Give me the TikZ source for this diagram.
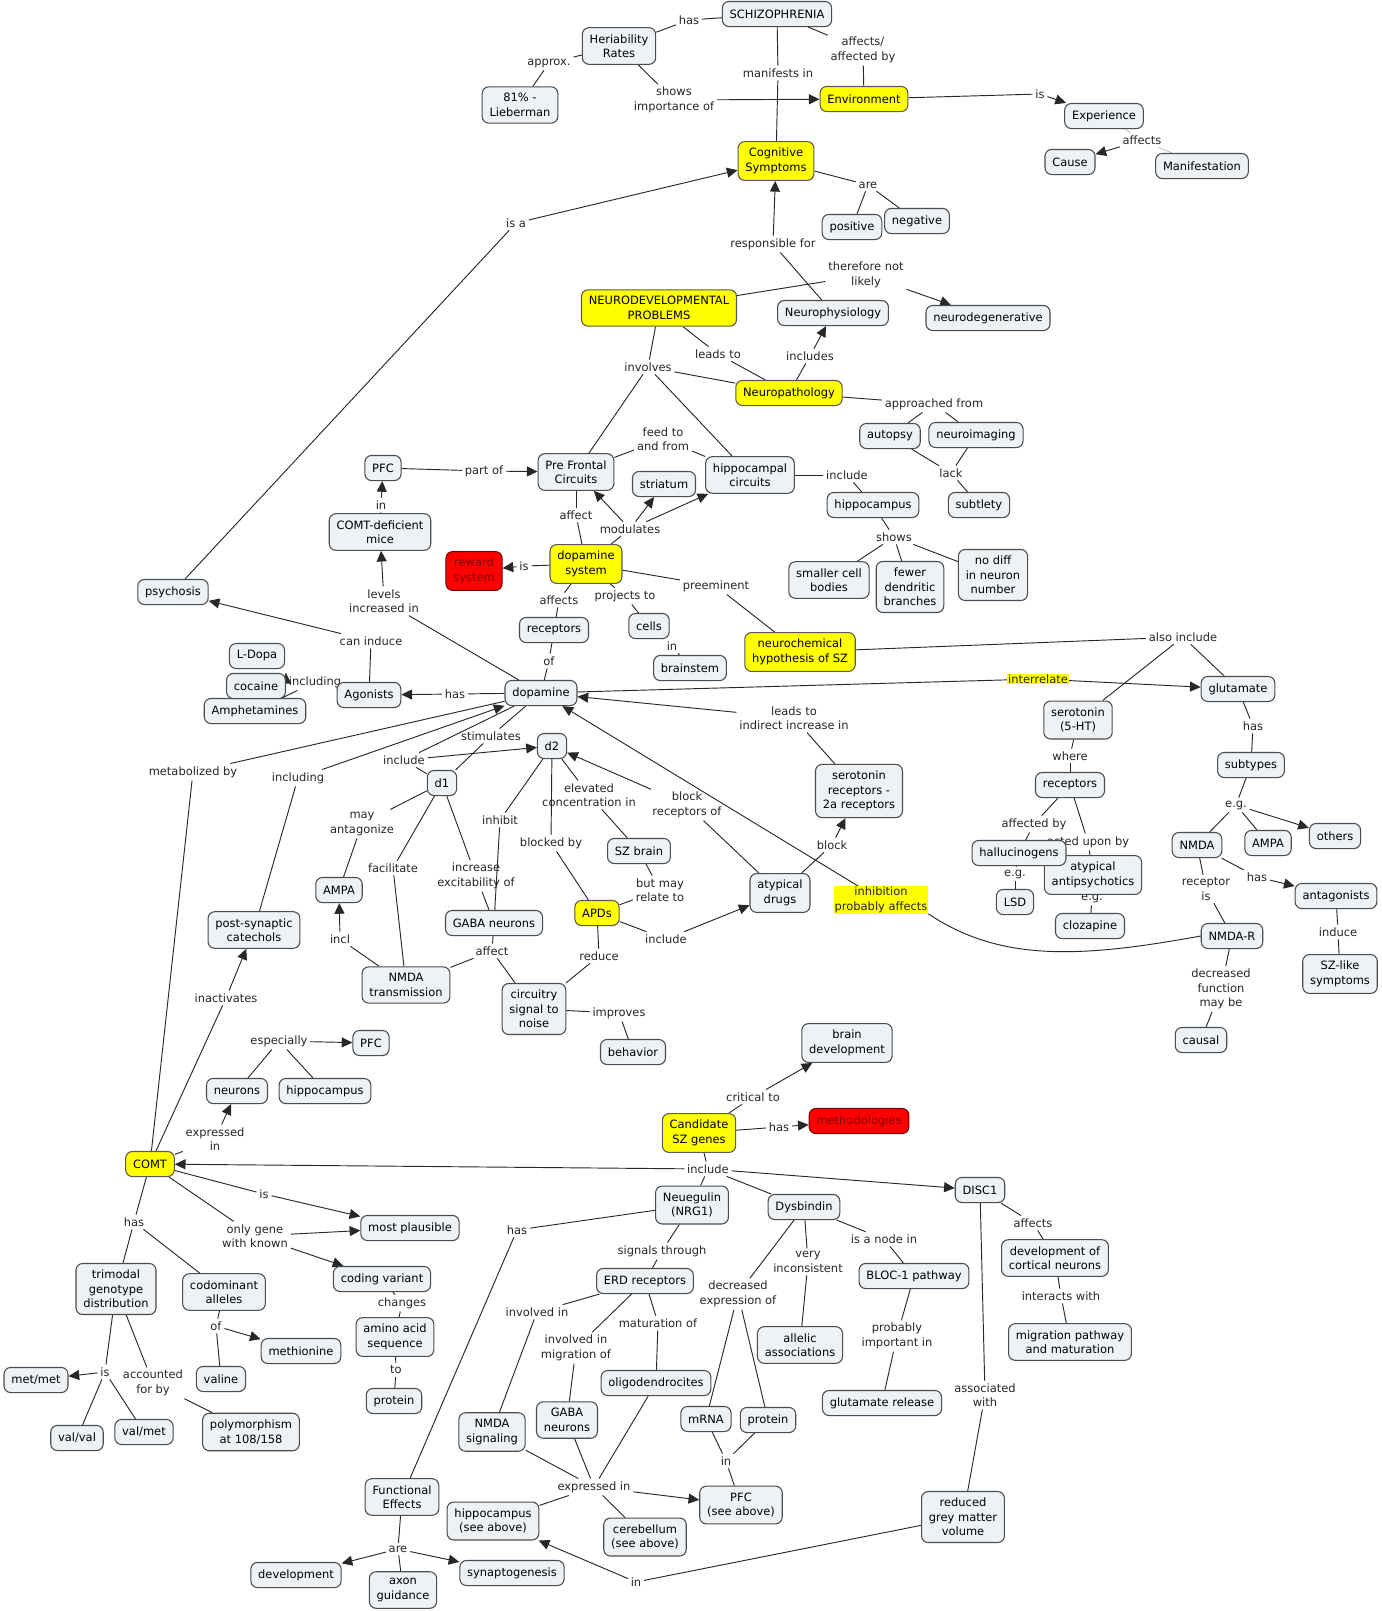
\documentclass[tikz,border=0pt]{standalone}
\usepackage{fontspec}
\setmainfont{DejaVu Sans}
\usepackage{tikz}
\usetikzlibrary{arrows.meta, positioning, backgrounds}
\definecolor{cfill}{RGB}{236,242,245}
\definecolor{keyyellow}{RGB}{255,255,0}
\definecolor{hotred}{RGB}{255,0,0}
\definecolor{edgegray}{RGB}{40,40,40}
\newcommand{\mapfont}{\fontsize{8.6}{10.8}\selectfont}
\tikzset{
  concept/.style={rectangle,rounded corners=5pt,draw=black!70,fill=cfill,line width=0.8pt,
    align=center,inner xsep=5.5pt,inner ysep=5pt,minimum height=18.8pt,font=\mapfont},
  keynode/.style={concept,fill=keyyellow,draw=black!65},
  hotnode/.style={concept,fill=hotred,draw=red!45!black,text=red!50!black},
  phrase/.style={inner sep=2pt,align=center,font=\mapfont,text=black!85},
  hiphrase/.style={phrase,fill=keyyellow,inner sep=0.6pt},
  ln/.style={draw=edgegray,line width=0.7pt},
  arr/.style={ln,-{Triangle[length=8pt,width=7.5pt]}},
  faint/.style={draw=black!35,line width=0.4pt}
}

\begin{document}
\begin{tikzpicture}[x=0.75pt,y=-0.75pt]
  \useasboundingbox (0,0) rectangle (1382,1611);

  % linking phrases
  \node[phrase] (pHas1) at (689,20) {has};
  \node[phrase] (pApprox) at (549,63) {approx.};
  \node[phrase] (pShows) at (674,100) {shows\\importance of};
  \node[phrase] (pManif) at (778,73) {manifests in};
  \node[phrase] (pAffBy) at (863,50) {affects/\\affected by};
  \node[phrase] (pIs1) at (1040,94) {is};
  \node[phrase] (pAffects1) at (1142,140) {affects};
  \node[phrase] (pIsa) at (516,223) {is a};
  \node[phrase] (pAre1) at (868,185) {are};
  \node[phrase] (pResp) at (773,244) {responsible for};
  \node[phrase] (pThere) at (866,275) {therefore not\\likely};
  \node[phrase] (pLeads) at (718,354) {leads to};
  \node[phrase] (pIncludes) at (810,356) {includes};
  \node[phrase] (pInvolves) at (648,367) {involves};
  \node[phrase] (pApproach) at (934,404) {approached from};
  \node[phrase] (pLack) at (951,473) {lack};
  \node[phrase] (pFeed) at (663,439) {feed to\\and from};
  \node[phrase] (pPartof) at (484,471) {part of};
  \node[phrase] (pInA) at (381,505) {in};
  \node[phrase] (pInclude1) at (847,475) {include};
  \node[phrase] (pAffect1) at (576,515) {affect};
  \node[phrase] (pModul) at (630,529) {modulates};
  \node[phrase] (pShows2) at (894,537) {shows};
  \node[phrase] (pIs2) at (524,566) {is};
  \node[phrase] (pAffects2) at (559,600) {affects};
  \node[phrase] (pProj) at (625,596) {projects to};
  \node[phrase] (pPreem) at (716,586) {preeminent};
  \node[phrase] (pLevels) at (384,601) {levels\\increased in};
  \node[phrase] (pCanInd) at (371,641) {can induce};
  \node[phrase] (pInB) at (672,646) {in};
  \node[phrase] (pOf1) at (549,661) {of};
  \node[phrase] (pIncl1) at (315,682) {including};
  \node[phrase] (pHas2) at (455,694) {has};
  \node[phrase] (pAlso) at (1183,637) {also include};
  \node[hiphrase] (pInter) at (1038,679) {interrelate};
  \node[phrase] (pWhere) at (1070,756) {where};
  \node[phrase] (pHas3) at (1253,726) {has};
  \node[phrase] (pStim) at (491,736) {stimulates};
  \node[phrase] (pLeadsInd) at (794,718) {leads to\\indirect increase in};
  \node[phrase] (pInclude2) at (404,760) {include};
  \node[phrase] (pMetab) at (193,772) {metabolized by};
  \node[phrase] (pIncl2) at (298,778) {including};
  \node[phrase] (pElev) at (589,795) {elevated\\concentration in};
  \node[phrase] (pBlockRec) at (687,805) {block\\receptors of};
  \node[phrase] (pEg1) at (1236,805) {e.g.};
  \node[phrase] (pInhibit) at (500,820) {inhibit};
  \node[phrase] (pMayAnt) at (362,824) {may\\antagonize};
  \node[phrase] (pAffBy2) at (1034,824) {affected by};
  \node[phrase] (pActed) at (1088,842) {acted upon by};
  \node[phrase] (pBlockedBy) at (551,843) {blocked by};
  \node[phrase] (pBlock) at (832,845) {block};
  \node[phrase] (pFacil) at (393,868) {facilitate};
  \node[phrase] (pIncExc) at (476,876) {increase\\excitability of};
  \node[phrase] (pRecIs) at (1206,889) {receptor\\is};
  \node[phrase] (pHas4) at (1257,877) {has};
  \node[phrase] (pBut) at (660,890) {but may\\relate to};
  \node[phrase] (pEg2) at (1015,874) {e.g.};
  \node[phrase] (pEg3) at (1092,898) {e.g.};
  \node[hiphrase] (pInhib) at (881,900) {inhibition\\probably affects};
  \node[phrase] (pInduce) at (1338,932) {induce};
  \node[phrase] (pIncl3) at (340,939) {incl};
  \node[phrase] (pInclude3) at (666,939) {include};
  \node[phrase] (pAffect2) at (492,951) {affect};
  \node[phrase] (pReduce) at (599,956) {reduce};
  \node[phrase] (pDecr) at (1221,989) {decreased\\function\\may be};
  \node[phrase] (pInact) at (226,998) {inactivates};
  \node[phrase] (pImprov) at (619,1013) {improves};
  \node[phrase] (pEspec) at (279,1041) {especially};
  \node[phrase] (pCritical) at (753,1097) {critical to};
  \node[phrase] (pHas5) at (779,1127) {has};
  \node[phrase] (pExprA) at (215,1139) {expressed\\in};
  \node[phrase] (pInclude4) at (708,1169) {include};
  \node[phrase] (pIs3) at (264,1194) {is};
  \node[phrase] (pHas6) at (134,1222) {has};
  \node[phrase] (pAffects3) at (1033,1223) {affects};
  \node[phrase] (pHas7) at (517,1230) {has};
  \node[phrase] (pOnly) at (255,1236) {only gene\\with known};
  \node[phrase] (pNode) at (884,1239) {is a node in};
  \node[phrase] (pSignals) at (662,1251) {signals through};
  \node[phrase] (pVery) at (808,1262) {very\\inconsistent};
  \node[phrase] (pDecrExp) at (738,1294) {decreased\\expression of};
  \node[phrase] (pInteracts) at (1061,1296) {interacts with};
  \node[phrase] (pChanges) at (402,1303) {changes};
  \node[phrase] (pInvolved) at (537,1312) {involved in};
  \node[phrase] (pMatur) at (658,1323) {maturation of};
  \node[phrase] (pOf2) at (216,1326) {of};
  \node[phrase] (pProb) at (897,1336) {probably\\important in};
  \node[phrase] (pInvMig) at (576,1348) {involved in\\migration of};
  \node[phrase] (pTo) at (396,1370) {to};
  \node[phrase] (pIs4) at (105,1372) {is};
  \node[phrase] (pAccount) at (153,1383) {accounted\\for by};
  \node[phrase] (pAssoc) at (985,1395) {associated\\with};
  \node[phrase] (pInC) at (726,1461) {in};
  \node[phrase] (pExprB) at (594,1487) {expressed in};
  \node[phrase] (pAre2) at (398,1549) {are};
  \node[phrase] (pInD) at (636,1582) {in};

  % concepts
  \node[concept] (schizo) at (777,14) {SCHIZOPHRENIA};
  \node[concept] (herit) at (619,46) {Heriability\\Rates};
  \node[concept] (liebe) at (520,105) {81\% -\\Lieberman};
  \node[keynode] (envir) at (864,99) {Environment};
  \node[keynode] (cogsym) at (776,161) {Cognitive\\Symptoms};
  \node[concept] (experi) at (1104,116) {Experience};
  \node[concept] (cause) at (1070,162) {Cause};
  \node[concept] (manif) at (1202,166) {Manifestation};
  \node[concept] (positive) at (852,227) {positive};
  \node[concept] (negative) at (917,221) {negative};
  \node[keynode] (neurodev) at (659,308) {NEURODEVELOPMENTAL\\PROBLEMS};
  \node[concept] (neurophys) at (833,313) {Neurophysiology};
  \node[concept] (neurodeg) at (988,318) {neurodegenerative};
  \node[keynode] (neuropath) at (789,393) {Neuropathology};
  \node[concept] (autopsy) at (890,436) {autopsy};
  \node[concept] (neuroimg) at (976,435) {neuroimaging};
  \node[concept] (subtlety) at (979,505) {subtlety};
  \node[concept] (pfcA) at (383,468) {PFC};
  \node[concept] (prefront) at (576,472) {Pre Frontal\\Circuits};
  \node[concept] (striatum) at (664,484) {striatum};
  \node[concept] (hippocirc) at (750,475) {hippocampal\\circuits};
  \node[concept] (hippoA) at (873,505) {hippocampus};
  \node[concept] (comtmice) at (380,532) {COMT-deficient\\mice};
  \node[hotnode] (reward) at (474,571) {reward\\system};
  \node[keynode] (dasys) at (586,564) {dopamine\\system};
  \node[concept] (smallcell) at (829,580) {smaller cell\\bodies};
  \node[concept] (fewer) at (910,587) {fewer\\dendritic\\branches};
  \node[concept] (nodiff) at (993,575) {no diff\\in neuron\\number};
  \node[concept] (psychosis) at (173,592) {psychosis};
  \node[concept] (receptA) at (554,630) {receptors};
  \node[concept] (cells) at (649,626) {cells};
  \node[concept] (brainstem) at (690,668) {brainstem};
  \node[keynode] (neurochem) at (800,652) {neurochemical\\hypothesis of SZ};
  \node[concept] (ldopa) at (257,656) {L-Dopa};
  \node[concept] (amphet) at (255,711) {Amphetamines};
  \node[concept] (cocaine) at (256,686) {cocaine};
  \node[concept] (agonists) at (369,695) {Agonists};
  \node[concept] (dopamine) at (541,693) {dopamine};
  \node[concept] (glutamate) at (1238,689) {glutamate};
  \node[concept] (sero) at (1078,720) {serotonin\\(5-HT)};
  \node[concept] (d2) at (552,746) {d2};
  \node[concept] (d1) at (442,783) {d1};
  \node[concept] (sero2a) at (859,791) {serotonin\\receptors -\\2a receptors};
  \node[concept] (receptB) at (1070,785) {receptors};
  \node[concept] (subtypes) at (1251,765) {subtypes};
  \node[concept] (szbrain) at (639,851) {SZ brain};
  \node[concept] (ampaA) at (339,890) {AMPA};
  \node[concept] (atypanti) at (1093,875) {atypical\\antipsychotics};
  \node[concept] (hallu) at (1019,853) {hallucinogens};
  \node[concept] (nmdaA) at (1197,845) {NMDA};
  \node[concept] (ampaB) at (1268,843) {AMPA};
  \node[concept] (others) at (1335,836) {others};
  \node[concept] (atypdrug) at (780,893) {atypical\\drugs};
  \node[keynode] (apds) at (597,913) {APDs};
  \node[concept] (gabaA) at (494,923) {GABA neurons};
  \node[concept] (postsyn) at (254,930) {post-synaptic\\catechols};
  \node[concept] (lsd) at (1015,902) {LSD};
  \node[concept] (clozap) at (1090,926) {clozapine};
  \node[concept] (antag) at (1336,896) {antagonists};
  \node[concept] (nmdar) at (1232,936) {NMDA-R};
  \node[concept] (nmdatr) at (406,985) {NMDA\\transmission};
  \node[concept] (circuit) at (534,1009) {circuitry\\signal to\\noise};
  \node[concept] (szlike) at (1340,974) {SZ-like\\symptoms};
  \node[concept] (causal) at (1201,1040) {causal};
  \node[concept] (pfcB) at (371,1043) {PFC};
  \node[concept] (behavior) at (633,1052) {behavior};
  \node[concept] (braindev) at (847,1043) {brain\\development};
  \node[concept] (neurons) at (237,1091) {neurons};
  \node[concept] (hippoB) at (325,1091) {hippocampus};
  \node[keynode] (candidate) at (699,1133) {Candidate\\SZ genes};
  \node[hotnode] (method) at (859,1121) {methodologies};
  \node[keynode] (comt) at (150,1164) {COMT};
  \node[concept] (disc1) at (980,1190) {DISC1};
  \node[concept] (nrg1) at (692,1205) {Neuegulin\\(NRG1)};
  \node[concept] (dysb) at (804,1207) {Dysbindin};
  \node[concept] (plausible) at (410,1228) {most plausible};
  \node[concept] (devcort) at (1055,1258) {development of\\cortical neurons};
  \node[concept] (bloc) at (914,1276) {BLOC-1 pathway};
  \node[concept] (coding) at (382,1279) {coding variant};
  \node[concept] (erd) at (645,1281) {ERD receptors};
  \node[concept] (trimodal) at (116,1289) {trimodal\\genotype\\distribution};
  \node[concept] (codom) at (224,1292) {codominant\\alleles};
  \node[concept] (amino) at (395,1337) {amino acid\\sequence};
  \node[concept] (migpath) at (1070,1342) {migration pathway\\and maturation};
  \node[concept] (allelic) at (800,1345) {allelic\\associations};
  \node[concept] (methio) at (301,1351) {methionine};
  \node[concept] (metmet) at (36,1380) {met/met};
  \node[concept] (valine) at (221,1379) {valine};
  \node[concept] (oligo) at (656,1383) {oligodendrocites};
  \node[concept] (proteinA) at (394,1401) {protein};
  \node[concept] (glurel) at (882,1403) {glutamate release};
  \node[concept] (gabaB) at (567,1420) {GABA\\neurons};
  \node[concept] (nmdasig) at (492,1432) {NMDA\\signaling};
  \node[concept] (mrna) at (706,1419) {mRNA};
  \node[concept] (proteinB) at (768,1420) {protein};
  \node[concept] (valval) at (77,1438) {val/val};
  \node[concept] (valmet) at (144,1432) {val/met};
  \node[concept] (polym) at (251,1432) {polymorphism\\at 108/158};
  \node[concept] (funceff) at (402,1497) {Functional\\Effects};
  \node[concept] (pfcC) at (741,1505) {PFC\\(see above)};
  \node[concept] (hippoC) at (493,1521) {hippocampus\\(see above)};
  \node[concept] (grey) at (963,1517) {reduced\\grey matter\\volume};
  \node[concept] (cereb) at (645,1537) {cerebellum\\(see above)};
  \node[concept] (synapto) at (512,1573) {synaptogenesis};
  \node[concept] (devel) at (296,1575) {development};
  \node[concept] (axon) at (403,1590) {axon\\guidance};

  \begin{pgfonlayer}{background}
    \fill[white] (0,0) rectangle (1382,1611);
    % schizophrenia and symptoms
    \draw[ln] (schizo)--(pHas1); \draw[ln] (pHas1)--(herit);
    \draw[ln] (herit)--(pApprox); \draw[ln] (pApprox)--(liebe);
    \draw[ln] (herit)--(pShows); \draw[arr] (pShows)--(envir);
    \draw[ln] (schizo)--(pManif); \draw[ln] (pManif)--(cogsym);
    \draw[ln] (schizo)--(pAffBy); \draw[ln] (pAffBy)--(envir);
    \draw[ln] (envir)--(pIs1); \draw[arr] (pIs1)--(experi);
    \draw[faint] (experi)--(pAffects1); \draw[arr] (pAffects1)--(cause);
    \draw[faint] (pAffects1)--(manif);
    \draw[ln] (cogsym)--(pAre1); \draw[ln] (pAre1)--(positive); \draw[ln] (pAre1)--(negative);
    \draw[ln] (psychosis)--(pIsa); \draw[arr] (pIsa)--(cogsym);
    \draw[ln] (neurophys)--(pResp); \draw[arr] (pResp)--(cogsym);
    \draw[ln] (neurodev)--(pThere); \draw[arr] (pThere)--(neurodeg);
    \draw[ln] (neurodev)--(pLeads); \draw[ln] (pLeads)--(neuropath);
    \draw[ln] (neuropath)--(pIncludes); \draw[arr] (pIncludes)--(neurophys);
    \draw[ln] (neurodev)--(pInvolves); \draw[ln] (pInvolves)--(neuropath);
    \draw[ln] (pInvolves)--(prefront); \draw[ln] (pInvolves)--(hippocirc);
    \draw[ln] (neuropath)--(pApproach); \draw[ln] (pApproach)--(autopsy); \draw[ln] (pApproach)--(neuroimg);
    \draw[ln] (autopsy)--(pLack); \draw[ln] (neuroimg)--(pLack); \draw[ln] (pLack)--(subtlety);
    % dopamine
    \draw[ln] (prefront)--(pFeed); \draw[ln] (pFeed)--(hippocirc);
    \draw[ln] (pfcA)--(pPartof); \draw[arr] (pPartof)--(prefront);
    \draw[ln] (comtmice)--(pInA); \draw[arr] (pInA)--(pfcA);
    \draw[ln] (hippocirc)--(pInclude1); \draw[ln] (pInclude1)--(hippoA);
    \draw[ln] (hippoA)--(pShows2); \draw[ln] (pShows2)--(smallcell);
    \draw[ln] (pShows2)--(fewer); \draw[ln] (pShows2)--(nodiff);
    \draw[ln] (dasys)--(pAffect1); \draw[ln] (pAffect1)--(prefront);
    \draw[ln] (dasys)--(pModul); \draw[arr] (pModul)--(prefront);
    \draw[arr] (pModul)--(striatum); \draw[arr] (pModul)--(hippocirc);
    \draw[ln] (dasys)--(pIs2); \draw[arr] (pIs2)--(reward);
    \draw[ln] (dasys)--(pAffects2); \draw[ln] (pAffects2)--(receptA);
    \draw[ln] (receptA)--(pOf1); \draw[ln] (pOf1)--(dopamine);
    \draw[ln] (dasys)--(pProj); \draw[ln] (pProj)--(cells);
    \draw[ln] (cells)--(pInB); \draw[ln] (pInB)--(brainstem);
    \draw[ln] (dasys)--(pPreem); \draw[ln] (pPreem)--(neurochem);
    \draw[ln] (neurochem)--(pAlso); \draw[ln] (pAlso)--(sero); \draw[ln] (pAlso)--(glutamate);
    \draw[ln] (dopamine)--(pInter); \draw[arr] (pInter)--(glutamate);
    \draw[ln] (dopamine)--(pHas2); \draw[arr] (pHas2)--(agonists);
    \draw[ln] (agonists)--(pCanInd); \draw[arr] (pCanInd)--(psychosis);
    \draw[ln] (agonists)--(pIncl1); \draw[arr] (pIncl1.north west)--(cocaine.north east);
    \draw[ln] (pIncl1)--(amphet);
    \draw[ln] (dopamine)--(pLevels); \draw[arr] (pLevels)--(comtmice);
    \draw[ln] (dopamine)--(pInclude2); \draw[arr] (pInclude2)--(d2); \draw[ln] (pInclude2)--(d1);
    \draw[ln] (dopamine)--(pStim); \draw[ln] (pStim)--(d1);
    \draw[ln] (comt)--(pMetab); \draw[ln] (pMetab)--(dopamine);
    \draw[ln] (postsyn)--(pIncl2); \draw[arr] (pIncl2)--(dopamine);
    \draw[ln] (d1)--(pMayAnt); \draw[ln] (pMayAnt)--(ampaA);
    \draw[ln] (d1)--(pFacil); \draw[ln] (pFacil)--(nmdatr);
    \draw[ln] (d1)--(pIncExc); \draw[ln] (pIncExc)--(gabaA);
    \draw[ln] (nmdatr)--(pIncl3); \draw[arr] (pIncl3)--(ampaA);
    \draw[ln] (d2)--(pInhibit); \draw[ln] (pInhibit)--(gabaA);
    \draw[ln] (d2)--(pBlockedBy); \draw[ln] (pBlockedBy)--(apds);
    \draw[ln] (d2)--(pElev); \draw[ln] (pElev)--(szbrain);
    \draw[ln] (szbrain)--(pBut); \draw[ln] (pBut)--(apds);
    \draw[ln] (apds)--(pInclude3); \draw[arr] (pInclude3)--(atypdrug);
    \draw[ln] (apds)--(pReduce); \draw[ln] (pReduce)--(circuit);
    \draw[ln] (gabaA)--(pAffect2); \draw[ln] (pAffect2)--(circuit); \draw[ln] (pAffect2)--(nmdatr);
    \draw[ln] (circuit)--(pImprov); \draw[ln] (pImprov)--(behavior);
    \draw[ln] (atypdrug)--(pBlockRec); \draw[arr] (pBlockRec)--(d2);
    \draw[ln] (atypdrug)--(pBlock); \draw[arr] (pBlock)--(sero2a);
    \draw[ln] (sero2a)--(pLeadsInd); \draw[arr] (pLeadsInd)--(dopamine);
    \draw[ln] (nmdar.west) .. controls (1080,958) and (1000,962) .. (pInhib.south east);
    \draw[arr] (pInhib)--(dopamine);
    % serotonin and glutamate
    \draw[ln] (sero)--(pWhere); \draw[ln] (pWhere)--(receptB);
    \draw[ln] (receptB)--(pAffBy2); \draw[ln] (pAffBy2)--(hallu);
    \draw[ln] (receptB)--(pActed); \draw[ln] (pActed)--(atypanti);
    \draw[ln] (hallu)--(pEg2); \draw[ln] (pEg2)--(lsd);
    \draw[ln] (atypanti)--(pEg3); \draw[ln] (pEg3)--(clozap);
    \draw[ln] (glutamate)--(pHas3); \draw[ln] (pHas3)--(subtypes);
    \draw[ln] (subtypes)--(pEg1); \draw[ln] (pEg1)--(nmdaA); \draw[ln] (pEg1)--(ampaB);
    \draw[arr] (pEg1)--(others);
    \draw[ln] (nmdaA)--(pRecIs); \draw[ln] (pRecIs)--(nmdar);
    \draw[ln] (nmdaA)--(pHas4); \draw[arr] (pHas4)--(antag);
    \draw[ln] (antag)--(pInduce); \draw[ln] (pInduce)--(szlike);
    \draw[ln] (nmdar)--(pDecr); \draw[ln] (pDecr)--(causal);
    % candidate genes
    \draw[ln] (candidate)--(pCritical); \draw[arr] (pCritical)--(braindev);
    \draw[ln] (candidate)--(pHas5); \draw[arr] (pHas5)--(method);
    \draw[ln] (candidate)--(pInclude4); \draw[arr] (pInclude4)--(comt);
    \draw[ln] (pInclude4)--(nrg1); \draw[ln] (pInclude4)--(dysb); \draw[arr] (pInclude4)--(disc1);
    \draw[ln] (comt)--(pExprA); \draw[arr] (pExprA)--(neurons);
    \draw[ln] (neurons)--(pEspec); \draw[ln] (pEspec)--(hippoB); \draw[arr] (pEspec)--(pfcB);
    \draw[ln] (comt)--(pInact); \draw[arr] (pInact)--(postsyn);
    \draw[ln] (comt)--(pIs3); \draw[arr] (pIs3)--(plausible);
    \draw[ln] (comt)--(pOnly); \draw[arr] (pOnly)--(plausible); \draw[arr] (pOnly)--(coding);
    \draw[ln] (coding)--(pChanges); \draw[ln] (pChanges)--(amino);
    \draw[ln] (amino)--(pTo); \draw[ln] (pTo)--(proteinA);
    \draw[ln] (comt)--(pHas6); \draw[ln] (pHas6)--(trimodal); \draw[ln] (pHas6)--(codom);
    \draw[ln] (trimodal)--(pIs4); \draw[arr] (pIs4)--(metmet);
    \draw[ln] (pIs4)--(valval); \draw[ln] (pIs4)--(valmet);
    \draw[ln] (trimodal)--(pAccount); \draw[ln] (pAccount)--(polym);
    \draw[ln] (codom)--(pOf2); \draw[arr] (pOf2)--(methio); \draw[ln] (pOf2)--(valine);
    \draw[ln] (nrg1)--(pHas7); \draw[ln] (pHas7)--(funceff);
    \draw[ln] (funceff)--(pAre2); \draw[arr] (pAre2)--(devel);
    \draw[ln] (pAre2)--(axon); \draw[arr] (pAre2)--(synapto);
    \draw[ln] (nrg1)--(pSignals); \draw[ln] (pSignals)--(erd);
    \draw[ln] (erd)--(pInvolved); \draw[ln] (pInvolved)--(nmdasig);
    \draw[ln] (erd)--(pInvMig); \draw[ln] (pInvMig)--(gabaB);
    \draw[ln] (erd)--(pMatur); \draw[ln] (pMatur)--(oligo);
    \draw[ln] (nmdasig)--(pExprB); \draw[ln] (gabaB)--(pExprB); \draw[ln] (oligo)--(pExprB);
    \draw[arr] (pExprB)--(pfcC); \draw[ln] (pExprB)--(hippoC); \draw[ln] (pExprB)--(cereb);
    \draw[ln] (dysb)--(pDecrExp); \draw[ln] (pDecrExp)--(mrna); \draw[ln] (pDecrExp)--(proteinB);
    \draw[ln] (mrna)--(pInC); \draw[ln] (proteinB)--(pInC); \draw[ln] (pInC)--(pfcC);
    \draw[ln] (dysb)--(pVery); \draw[ln] (pVery)--(allelic);
    \draw[ln] (dysb)--(pNode); \draw[ln] (pNode)--(bloc);
    \draw[ln] (bloc)--(pProb); \draw[ln] (pProb)--(glurel);
    \draw[ln] (disc1)--(pAffects3); \draw[ln] (pAffects3)--(devcort);
    \draw[ln] (devcort)--(pInteracts); \draw[ln] (pInteracts)--(migpath);
    \draw[ln] (disc1)--(pAssoc); \draw[ln] (pAssoc)--(grey);
    \draw[ln] (grey)--(pInD); \draw[arr] (pInD)--(hippoC);
  \end{pgfonlayer}
\end{tikzpicture}
\end{document}
